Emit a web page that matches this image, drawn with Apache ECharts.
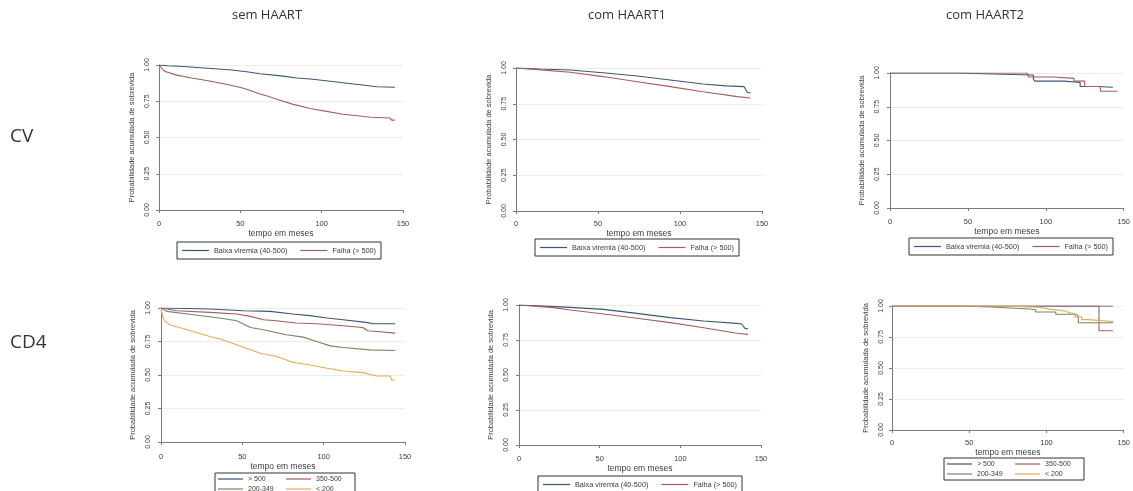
<!DOCTYPE html>
<html><head><meta charset="utf-8">
<script src="https://cdn.jsdelivr.net/npm/echarts@6/dist/echarts.min.js"></script>
<style>html,body{margin:0;padding:0;background:#fff}#c{width:1133px;height:491px}</style>
</head><body><div id="c"></div><script>
// ---- text / categories ----
const colTitles = ['sem HAART', 'com HAART1', 'com HAART2'];
const rowLabels = ['CV', 'CD4'];
const yTitle = 'Probabilidade acumulada de sobrevida';
const xTitle = 'tempo em meses';
const xTicks = [0, 50, 100, 150];
const yTicks = [0, 0.25, 0.5, 0.75, 1];
const cvNames = ['Baixa viremia (40-500)', 'Falha (> 500)'];
const cd4Names = ['> 500', '350-500', '200-349', '< 200'];

// ---- series values: [meses, probabilidade] ----
// CV, sem HAART
const cvSemBaixa = [[0,1],[5,0.995],[15,0.99],[30,0.978],[45,0.965],[55,0.952],[62,0.94],[75,0.925],[85,0.91],[93,0.903],[100,0.895],[113,0.878],[125,0.862],[134,0.85],[145,0.847]];
const cvSemFalha = [[0,1],[1,0.985],[3.7,0.955],[11,0.93],[20,0.91],[31,0.89],[42,0.865],[52,0.84],[57,0.82],[62,0.80],[67,0.785],[72,0.765],[82,0.73],[93,0.70],[103,0.68],[113,0.66],[122,0.65],[130,0.64],[142,0.635],[143,0.62],[145,0.62]];
// CV, com HAART1
const cvH1Baixa = [[0,1],[15,0.993],[33,0.986],[53,0.967],[74,0.944],[94,0.916],[114,0.888],[128,0.875],[139,0.87],[140,0.85],[141,0.83],[143,0.825]];
const cvH1Falha = [[0,1],[15,0.987],[33,0.97],[53,0.94],[74,0.904],[94,0.87],[114,0.834],[135,0.80],[143,0.79]];
// CV, com HAART2 (degraus)
const cvH2Baixa = [[0,1],[44,0.995],[60,0.985],[92,0.955],[93,0.94],[112,0.93],[122,0.90],[133,0.894],[143,0.894]];
const cvH2Falha = [[0,1],[88,1],[89,0.97],[105,0.96],[118,0.94],[125,0.90],[135,0.865],[146,0.865]];
// CD4, sem HAART
const cd4SemA = [[0,1],[30,0.9925],[50.6,0.98],[67,0.975],[81,0.955],[91.6,0.943],[102,0.925],[112,0.9125],[126,0.8925],[130.5,0.8825],[144,0.8825]];
const cd4SemB = [[0,1],[10,0.98],[30,0.9675],[46.5,0.955],[55,0.9375],[63,0.9125],[71,0.905],[83,0.8875],[95.7,0.8825],[112,0.8675],[124,0.855],[127,0.83],[134.6,0.8225],[135.7,0.8125],[144,0.8125]];
const cd4SemC = [[0,1],[3.5,0.975],[20,0.95],[36,0.925],[46.5,0.905],[55,0.855],[63,0.8375],[77,0.80],[87.5,0.7825],[95.7,0.75],[104,0.7175],[112,0.705],[128.5,0.6875],[144,0.6825]];
const cd4SemD = [[0,1],[1,0.9375],[2.5,0.90],[5.5,0.875],[16,0.8375],[30,0.7875],[36,0.77],[46.5,0.725],[61,0.6625],[71,0.6375],[81,0.595],[91.6,0.575],[102,0.55],[112,0.53],[124,0.5175],[132.6,0.4925],[140.8,0.4925],[141.8,0.4625],[144,0.4625]];
// CD4, com HAART1
const cd4H1Baixa = [[0,1],[15,0.992],[31.8,0.983],[52.5,0.969],[73,0.94],[93.8,0.91],[114.5,0.886],[135,0.869],[138,0.864],[140,0.833],[142,0.829]];
const cd4H1Falha = [[0,1],[21.5,0.981],[31.8,0.964],[52.5,0.936],[73,0.905],[93.8,0.874],[114.5,0.838],[135,0.798],[142,0.79]];
// CD4, com HAART2 (degraus)
const cd4H2A = [[0,1],[143,1]];
const cd4H2B = [[0,1],[134,0.8],[143,0.8]];
const cd4H2C = [[0,1],[43,0.992],[64,0.976],[89,0.97],[93,0.952],[106,0.933],[118.5,0.92],[120.6,0.865],[143,0.865]];
const cd4H2D = [[0,1],[60,0.995],[85,0.99],[95,0.975],[102,0.96],[112,0.95],[114,0.935],[118.5,0.91],[122.7,0.89],[127,0.875],[143,0.865]];

// ---- styles ----
const navy = '#3a5676', maroon = '#a65c61', green = '#74895c', orange = '#e6a957';
const axisCol = '#7a7a7a', txtCol = '#3c3c3c';

const panels = [
  {grid:{left:159,top:65,width:244,height:145}, yOff:4, xOff:5, names:cvNames, data:[cvSemBaixa,cvSemFalha], colors:[navy,maroon], step:false,
   legend:{left:177,top:242,four:false}},
  {grid:{left:516,top:68,width:246,height:143}, yOff:4, xOff:4, names:cvNames, data:[cvH1Baixa,cvH1Falha], colors:[navy,maroon], step:false,
   legend:{left:535,top:239,four:false}},
  {grid:{left:890,top:73,width:240,height:135}, yOff:5, xOff:5, names:cvNames, data:[cvH2Baixa,cvH2Falha], colors:[navy,maroon], step:'end',
   legend:{left:909,top:238,four:false}},
  {grid:{left:161,top:308,width:244,height:134}, yOff:5, xOff:6, names:cd4Names, data:[cd4SemA,cd4SemB,cd4SemC,cd4SemD], colors:[navy,maroon,green,orange], step:false,
   legend:{left:215,top:473,four:true}},
  {grid:{left:519,top:305,width:242,height:140}, yOff:5, xOff:5, names:cvNames, data:[cd4H1Baixa,cd4H1Falha], colors:[navy,maroon], step:false,
   legend:{left:538,top:476,four:false}},
  {grid:{left:892,top:306,width:238,height:124}, yOff:3, xOff:4, names:cd4Names, data:[cd4H2A,cd4H2B,cd4H2C,cd4H2D], colors:[navy,maroon,green,orange], step:'end',
   legend:{left:944,top:458,four:true}}
];

const grids = [], xAxes = [], yAxes = [], series = [], legends = [];
panels.forEach((p, i) => {
  grids.push(Object.assign({containLabel:false}, p.grid));
  xAxes.push({
    gridIndex:i, type:'value', min:xTicks[0], max:xTicks[xTicks.length-1], interval:xTicks[1]-xTicks[0], offset:p.xOff,
    axisLine:{show:true, lineStyle:{color:axisCol, width:1}},
    axisTick:{show:true, length:3, lineStyle:{color:axisCol}},
    axisLabel:{fontSize:7.5, color:txtCol, margin:5, fontFamily:'Liberation Sans'},
    splitLine:{show:false},
    name:xTitle, nameLocation:'middle', nameGap:14,
    nameTextStyle:{fontSize:8.5, color:txtCol, fontFamily:'Liberation Sans'}
  });
  yAxes.push({
    gridIndex:i, type:'value', min:yTicks[0], max:yTicks[yTicks.length-1], interval:yTicks[1]-yTicks[0], offset:p.yOff,
    axisLine:{show:true, lineStyle:{color:axisCol, width:1}},
    axisTick:{show:true, length:3, lineStyle:{color:axisCol}},
    axisLabel:{fontSize:7, color:txtCol, margin:4, rotate:90, fontFamily:'Liberation Sans', formatter:v=>v.toFixed(2)},
    splitLine:{show:true, lineStyle:{color:'#ececec', width:1}},
    name:yTitle, nameLocation:'middle', nameGap:19,
    nameTextStyle:{fontSize:7.5, color:txtCol, fontFamily:'Liberation Sans'}
  });
  p.data.forEach((d, k) => {
    series.push({
      type:'line', name:p.names[k], xAxisIndex:i, yAxisIndex:i, data:d,
      step:p.step, symbol:'none', showSymbol:false, smooth:false,
      lineStyle:{color:p.colors[k], width:1.1}, itemStyle:{color:p.colors[k]},
      emphasis:{disabled:true}, animation:false, z:2
    });
  });
  const L = p.legend;
  legends.push(Object.assign({
    data:p.names.slice(), left:L.left, top:L.top, orient:'horizontal',
    backgroundColor:'#fff', borderColor:'#333', borderWidth:1,
    icon:'rect', itemWidth:27, itemHeight:1.2, selectedMode:false,
    textStyle:{fontSize:7.3, color:txtCol, fontFamily:'Liberation Sans'}
  }, L.four ? {
    width:150, padding:[2,3], itemGap:2, itemWidth:25,
    textStyle:{fontSize:7, color:txtCol, fontFamily:'Liberation Sans', width:36, lineHeight:8}
  } : {
    padding:[5,5], itemGap:13
  }));
});

const graphics = [];
const colCenters = [267, 627, 985];
colTitles.forEach((t, j) => graphics.push({type:'text', style:{
  text:t, x:colCenters[j], y:15, textAlign:'center', textVerticalAlign:'middle',
  font:'13px "Open Sans"', fill:'#333'}}));
const rowY = [137, 343];
rowLabels.forEach((t, j) => graphics.push({type:'text', style:{
  text:t, x:10, y:rowY[j], textAlign:'left', textVerticalAlign:'middle',
  font:'19px "Open Sans"', fill:'#333'}}));

const chart = echarts.init(document.getElementById('c'), null, {renderer:'canvas'});
chart.setOption({
  animation:false, backgroundColor:'#fff',
  grid:grids, xAxis:xAxes, yAxis:yAxes, series:series, legend:legends, graphic:graphics
});
</script></body></html>
